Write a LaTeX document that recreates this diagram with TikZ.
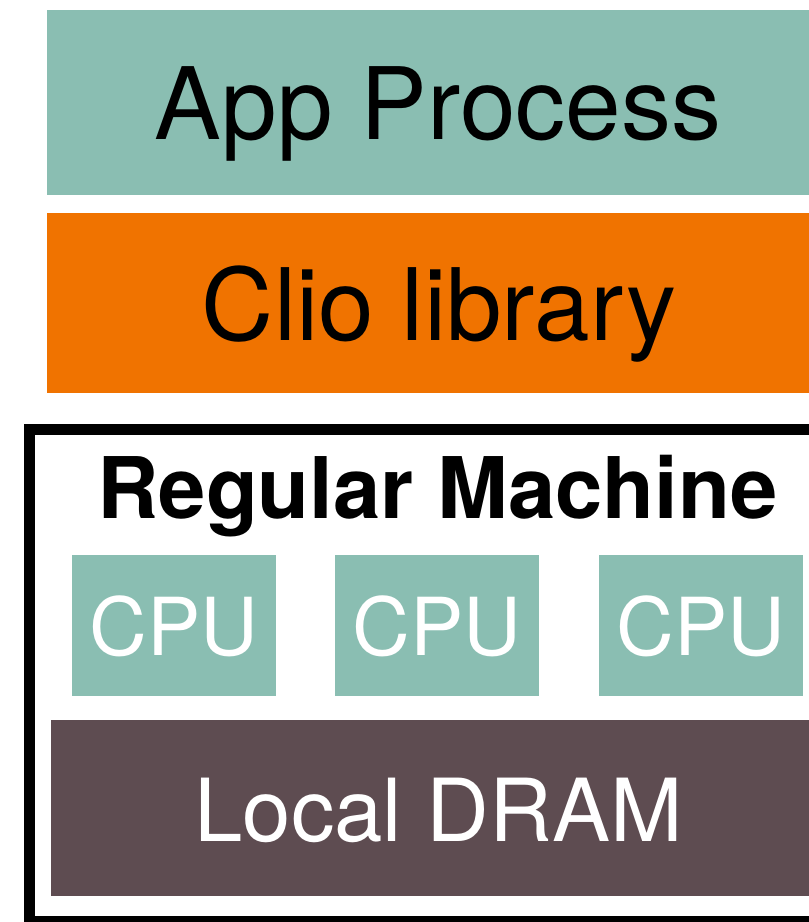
\documentclass[tikz,border=0pt]{standalone}
\usepackage{fontspec}
\setmainfont{TeX Gyre Heros}
\definecolor{tealbox}{HTML}{8ABEB2}
\definecolor{clioorange}{HTML}{F07300}
\definecolor{dramgray}{HTML}{5E4C51}
\tikzset{
  block/.style={fill=#1, draw=none},
  label/.style={anchor=base, inner sep=0pt, text=#1},
}
\begin{document}
\begin{tikzpicture}[x=1pt, y=-1pt]
  \useasboundingbox (0,0) rectangle (809,922);
  \clip (0,0) rectangle (809,922);
  % application process layer
  \fill[block=tealbox] (47,10) rectangle (815,195);
  \node[label=black, font=\fontsize{100}{100}\selectfont] (app) at (438,139) {App Process};
  % Clio library layer
  \fill[block=clioorange] (47,213) rectangle (815,393);
  \node[label=black, font=\fontsize{100}{100}\selectfont] (clio) at (439,340) {Clio library};
  % machine frame
  \draw[line width=11pt] (29.5,429.5) rectangle (830,921.5);
  \node[label=black, font=\bfseries\fontsize{85}{85}\selectfont] (machine) at (437.5,518) {Regular Machine};
  % CPUs
  \foreach \x/\n in {72/cpua, 335/cpub, 599/cpuc} {
    \fill[block=tealbox] (\x,555) rectangle ++(204,141);
    \node[label=white, font=\fontsize{80}{80}\selectfont] (\n) at (\x+102,655) {CPU};
  }
  % local memory
  \fill[block=dramgray] (51,720) rectangle (815,896);
  \node[label=white, font=\fontsize{87}{87}\selectfont] (dram) at (438.5,841) {Local DRAM};
\end{tikzpicture}
\end{document}
